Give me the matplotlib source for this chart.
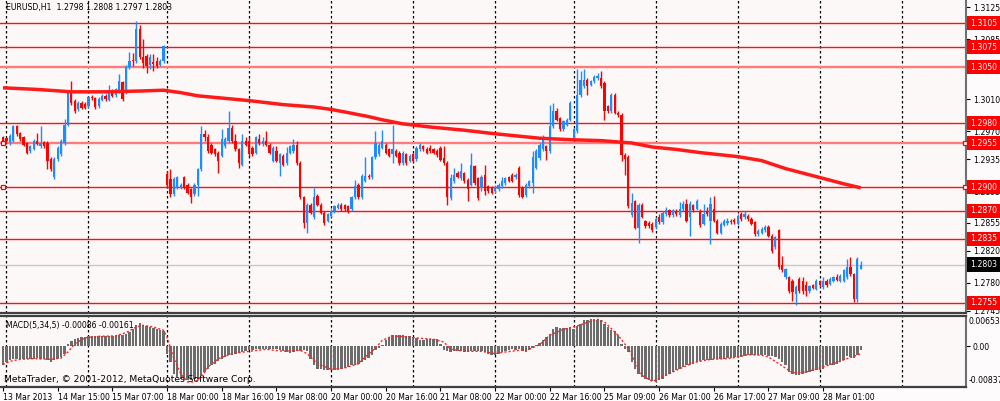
import numpy as np
import matplotlib.pyplot as plt
from matplotlib import font_manager
from matplotlib.transforms import blended_transform_factory

# MT4 uses a narrow UI font; take Liberation Sans Narrow when it is there
_names = {f.name for f in font_manager.fontManager.ttflist}
if 'Liberation Sans Narrow' in _names:
    plt.rcParams['font.family'] = ['Liberation Sans Narrow', 'DejaVu Sans']
    FS = 7.5
else:
    plt.rcParams['font.family'] = ['DejaVu Sans']
    FS = 5.6

# EURUSD H1, one candle per hour starting 13 Mar 2013 23:00
opens = [1.2962, 1.2961, 1.2956, 1.2958, 1.2976, 1.2967, 1.2962, 1.2955, 1.2945, 1.2947,
         1.2958, 1.2951, 1.2956, 1.2955, 1.2935, 1.2912, 1.2935, 1.2941, 1.2955, 1.2978,
         1.3018, 1.3008, 1.2997, 1.3005, 1.3004, 1.3001, 1.3013, 1.3011, 1.3001, 1.3009,
         1.3014, 1.3009, 1.3020, 1.3015, 1.3020, 1.3031, 1.3018, 1.3050, 1.3059, 1.3058,
         1.3097, 1.3062, 1.3064, 1.3053, 1.3056, 1.3058, 1.3053, 1.3058,
         1.2916, 1.2910, 1.2891, 1.2899, 1.2899, 1.2912, 1.2903, 1.2897, 1.2891, 1.2903,
         1.2922, 1.2966, 1.2962, 1.2953, 1.2947, 1.2943,
         1.2939, 1.2951, 1.2958, 1.2974, 1.2958, 1.2947, 1.2928, 1.2958, 1.2958, 1.2949,
         1.2943, 1.2960, 1.2954, 1.2958, 1.2953, 1.2933, 1.2945, 1.2930, 1.2939, 1.2930,
         1.2943, 1.2945, 1.2953, 1.2930, 1.2887, 1.2855, 1.2878, 1.2862, 1.2889, 1.2878,
         1.2868, 1.2858, 1.2864, 1.2870, 1.2874, 1.2878, 1.2877, 1.2876, 1.2872, 1.2887,
         1.2903, 1.2887, 1.2908, 1.2914, 1.2912, 1.2937, 1.2941, 1.2949, 1.2953, 1.2947,
         1.2941, 1.2945, 1.2943, 1.2930, 1.2941, 1.2933, 1.2941, 1.2935, 1.2947, 1.2951, 1.2948,
         1.2949, 1.2947, 1.2945, 1.2949, 1.2936, 1.2930, 1.2886, 1.2907, 1.2917, 1.2911,
         1.2917, 1.2909, 1.2903, 1.2926, 1.2911, 1.2899, 1.2915, 1.2901, 1.2899, 1.2895,
         1.2897, 1.2901, 1.2905, 1.2912, 1.2915, 1.2912, 1.2924, 1.2899, 1.2890, 1.2901,
         1.2905, 1.2924, 1.2936, 1.2947, 1.2951, 1.2945, 1.2976, 1.2995, 1.2986, 1.2972, 1.2978, 1.2984,
         1.2961, 1.2970, 1.3015, 1.3026, 1.3034, 1.3028, 1.3032, 1.3036, 1.3036, 1.3030,
         1.3001, 1.2995, 1.3015, 1.2993, 1.2990, 1.2940, 1.2938, 1.2865, 1.2882, 1.2849, 1.2878, 1.2857, 1.2855,
         1.2854, 1.2850, 1.2862, 1.2856, 1.2866, 1.2871, 1.2865, 1.2870, 1.2865, 1.2872,
         1.2879, 1.2862, 1.2877, 1.2873, 1.2870, 1.2854, 1.2870, 1.2858, 1.2873, 1.2858,
         1.2843, 1.2853, 1.2855, 1.2858, 1.2859, 1.2854, 1.2866, 1.2862, 1.2864, 1.2860,
         1.2856, 1.2841, 1.2843, 1.2846, 1.2850, 1.2839, 1.2825, 1.2846, 1.2802, 1.2787,
         1.2787, 1.2783, 1.2766, 1.2785, 1.2783, 1.2777, 1.2770, 1.2777, 1.2773, 1.2782,
         1.2775, 1.2783, 1.2779, 1.2783, 1.2787, 1.2783, 1.2783, 1.2787, 1.2800, 1.2791,
         1.2760, 1.2798]
highs = [1.2964, 1.2963, 1.2966, 1.2977, 1.2978, 1.2969, 1.2964, 1.2956, 1.2953, 1.2960,
         1.2968, 1.2976, 1.2958, 1.2957, 1.2937, 1.2937, 1.2951, 1.2960, 1.2985, 1.3020,
         1.3032, 1.3010, 1.3008, 1.3007, 1.3006, 1.3014, 1.3015, 1.3012, 1.3012, 1.3016,
         1.3016, 1.3028, 1.3022, 1.3024, 1.3041, 1.3033, 1.3052, 1.3069, 1.3068, 1.3107,
         1.3103, 1.3085, 1.3066, 1.3066, 1.3066, 1.3062, 1.3060, 1.3078,
         1.2920, 1.2922, 1.2912, 1.2914, 1.2905, 1.2914, 1.2905, 1.2899, 1.2905, 1.2924,
         1.2976, 1.2971, 1.2966, 1.2955, 1.2949, 1.2945,
         1.2972, 1.2962, 1.2995, 1.2978, 1.2966, 1.2949, 1.2966, 1.2962, 1.2962, 1.2951,
         1.2964, 1.2966, 1.2962, 1.2970, 1.2955, 1.2951, 1.2951, 1.2943, 1.2941, 1.2950,
         1.2953, 1.2960, 1.2958, 1.2932, 1.2889, 1.2880, 1.2880, 1.2899, 1.2891, 1.2880,
         1.2870, 1.2868, 1.2872, 1.2878, 1.2880, 1.2880, 1.2879, 1.2878, 1.2889, 1.2909,
         1.2905, 1.2916, 1.2937, 1.2916, 1.2939, 1.2970, 1.2955, 1.2971, 1.2955, 1.2949,
         1.2978, 1.2947, 1.2945, 1.2945, 1.2943, 1.2941, 1.2943, 1.2951, 1.2955, 1.2953, 1.2950,
         1.2953, 1.2949, 1.2947, 1.2951, 1.2951, 1.2932, 1.2916, 1.2924, 1.2920, 1.2930,
         1.2919, 1.2911, 1.2942, 1.2928, 1.2913, 1.2915, 1.2928, 1.2903, 1.2901, 1.2903,
         1.2905, 1.2912, 1.2913, 1.2914, 1.2917, 1.2918, 1.2926, 1.2901, 1.2905, 1.2909,
         1.2945, 1.2947, 1.2955, 1.2965, 1.2953, 1.3003, 1.3005, 1.2999, 1.2988, 1.2984, 1.2986, 1.3007,
         1.2974, 1.3047, 1.3045, 1.3047, 1.3036, 1.3034, 1.3040, 1.3043, 1.3045, 1.3032,
         1.3003, 1.3017, 1.3017, 1.2995, 1.2992, 1.2942, 1.2940, 1.2892, 1.2884, 1.2880, 1.2880, 1.2859, 1.2857,
         1.2856, 1.2862, 1.2866, 1.2870, 1.2875, 1.2873, 1.2873, 1.2873, 1.2881, 1.2883,
         1.2885, 1.2883, 1.2879, 1.2885, 1.2872, 1.2879, 1.2875, 1.2887, 1.2889, 1.2860,
         1.2856, 1.2860, 1.2861, 1.2860, 1.2861, 1.2866, 1.2869, 1.2870, 1.2866, 1.2862,
         1.2858, 1.2847, 1.2850, 1.2852, 1.2852, 1.2841, 1.2839, 1.2848, 1.2814, 1.2799,
         1.2789, 1.2785, 1.2777, 1.2787, 1.2787, 1.2783, 1.2778, 1.2779, 1.2785, 1.2784,
         1.2787, 1.2785, 1.2787, 1.2789, 1.2791, 1.2791, 1.2798, 1.2810, 1.2812, 1.2793,
         1.2812, 1.2808]
lows = [1.2955, 1.2954, 1.2953, 1.2956, 1.2964, 1.2958, 1.2951, 1.2941, 1.2943, 1.2946,
        1.2952, 1.2949, 1.2949, 1.2922, 1.2920, 1.2910, 1.2933, 1.2939, 1.2953, 1.2976,
        1.3003, 1.2993, 1.2995, 1.2997, 1.2997, 1.2999, 1.3009, 1.2998, 1.2999, 1.3007,
        1.3008, 1.3007, 1.3012, 1.3013, 1.3018, 1.3008, 1.3016, 1.3048, 1.3051, 1.3055,
        1.3060, 1.3049, 1.3043, 1.3047, 1.3045, 1.3049, 1.3051, 1.3055,
        1.2899, 1.2887, 1.2889, 1.2897, 1.2897, 1.2897, 1.2891, 1.2880, 1.2889, 1.2889,
        1.2920, 1.2958, 1.2943, 1.2941, 1.2939, 1.2918,
        1.2937, 1.2949, 1.2955, 1.2955, 1.2945, 1.2924, 1.2926, 1.2951, 1.2939, 1.2939,
        1.2941, 1.2953, 1.2951, 1.2951, 1.2941, 1.2931, 1.2931, 1.2914, 1.2926, 1.2928,
        1.2941, 1.2943, 1.2928, 1.2885, 1.2849, 1.2843, 1.2866, 1.2860, 1.2876, 1.2866,
        1.2853, 1.2856, 1.2862, 1.2868, 1.2872, 1.2870, 1.2870, 1.2868, 1.2870, 1.2885,
        1.2885, 1.2885, 1.2906, 1.2910, 1.2910, 1.2935, 1.2939, 1.2947, 1.2941, 1.2937,
        1.2930, 1.2937, 1.2928, 1.2928, 1.2928, 1.2931, 1.2931, 1.2933, 1.2945, 1.2945, 1.2941,
        1.2943, 1.2941, 1.2938, 1.2932, 1.2928, 1.2878, 1.2884, 1.2905, 1.2911, 1.2909,
        1.2905, 1.2882, 1.2901, 1.2903, 1.2884, 1.2895, 1.2890, 1.2893, 1.2891, 1.2893,
        1.2895, 1.2899, 1.2903, 1.2906, 1.2906, 1.2910, 1.2888, 1.2886, 1.2888, 1.2899,
        1.2892, 1.2922, 1.2934, 1.2945, 1.2934, 1.2943, 1.2974, 1.2982, 1.2970, 1.2970, 1.2976, 1.2982,
        1.2959, 1.2968, 1.3013, 1.3024, 1.3015, 1.3026, 1.3030, 1.3034, 1.3024, 1.2984,
        1.2993, 1.2993, 1.2991, 1.2988, 1.2932, 1.2915, 1.2874, 1.2863, 1.2847, 1.2830, 1.2861, 1.2849, 1.2849,
        1.2844, 1.2848, 1.2854, 1.2854, 1.2864, 1.2863, 1.2863, 1.2864, 1.2863, 1.2870,
        1.2856, 1.2839, 1.2869, 1.2871, 1.2850, 1.2852, 1.2864, 1.2829, 1.2856, 1.2841,
        1.2841, 1.2851, 1.2853, 1.2854, 1.2854, 1.2852, 1.2858, 1.2860, 1.2858, 1.2852,
        1.2839, 1.2839, 1.2841, 1.2844, 1.2837, 1.2818, 1.2823, 1.2798, 1.2794, 1.2785,
        1.2768, 1.2758, 1.2753, 1.2768, 1.2766, 1.2764, 1.2768, 1.2772, 1.2771, 1.2775,
        1.2773, 1.2775, 1.2777, 1.2781, 1.2782, 1.2781, 1.2781, 1.2785, 1.2789, 1.2756,
        1.2756, 1.2797]
closes = [1.2958, 1.2957, 1.2964, 1.2976, 1.2966, 1.2960, 1.2953, 1.2943, 1.2951, 1.2958,
          1.2954, 1.2955, 1.2951, 1.2932, 1.2922, 1.2935, 1.2949, 1.2958, 1.2978, 1.3018,
          1.3005, 1.2995, 1.3005, 1.2999, 1.2999, 1.3012, 1.3011, 1.3000, 1.3010, 1.3014,
          1.3010, 1.3020, 1.3014, 1.3022, 1.3033, 1.3010, 1.3050, 1.3058, 1.3058, 1.3097,
          1.3062, 1.3055, 1.3051, 1.3062, 1.3054, 1.3051, 1.3058, 1.3076,
          1.2903, 1.2891, 1.2910, 1.2912, 1.2903, 1.2899, 1.2893, 1.2887, 1.2903, 1.2922,
          1.2966, 1.2962, 1.2945, 1.2943, 1.2941, 1.2933,
          1.2960, 1.2960, 1.2974, 1.2958, 1.2947, 1.2930, 1.2958, 1.2953, 1.2941, 1.2941,
          1.2962, 1.2955, 1.2958, 1.2953, 1.2943, 1.2949, 1.2933, 1.2941, 1.2928, 1.2943,
          1.2951, 1.2953, 1.2930, 1.2887, 1.2855, 1.2878, 1.2868, 1.2887, 1.2878, 1.2868,
          1.2855, 1.2866, 1.2870, 1.2876, 1.2878, 1.2872, 1.2872, 1.2870, 1.2887, 1.2901,
          1.2887, 1.2914, 1.2914, 1.2912, 1.2937, 1.2955, 1.2953, 1.2958, 1.2943, 1.2939,
          1.2947, 1.2939, 1.2930, 1.2943, 1.2930, 1.2939, 1.2933, 1.2949, 1.2953, 1.2947, 1.2943,
          1.2945, 1.2943, 1.2940, 1.2934, 1.2930, 1.2888, 1.2911, 1.2915, 1.2913, 1.2920,
          1.2907, 1.2897, 1.2928, 1.2905, 1.2886, 1.2913, 1.2895, 1.2895, 1.2893, 1.2900,
          1.2903, 1.2907, 1.2911, 1.2908, 1.2908, 1.2915, 1.2890, 1.2888, 1.2903, 1.2907,
          1.2938, 1.2945, 1.2953, 1.2963, 1.2945, 1.2976, 1.2995, 1.2984, 1.2972, 1.2982, 1.2984, 1.3005,
          1.2972, 1.3015, 1.3034, 1.3034, 1.3026, 1.3032, 1.3038, 1.3039, 1.3026, 1.2995,
          1.2995, 1.3015, 1.2993, 1.2990, 1.2940, 1.2935, 1.2876, 1.2880, 1.2849, 1.2878, 1.2863, 1.2851, 1.2851,
          1.2846, 1.2860, 1.2856, 1.2868, 1.2871, 1.2865, 1.2871, 1.2866, 1.2873, 1.2879,
          1.2858, 1.2879, 1.2871, 1.2883, 1.2852, 1.2866, 1.2866, 1.2879, 1.2858, 1.2843,
          1.2854, 1.2858, 1.2858, 1.2856, 1.2856, 1.2864, 1.2860, 1.2866, 1.2860, 1.2854,
          1.2841, 1.2845, 1.2848, 1.2850, 1.2839, 1.2820, 1.2837, 1.2800, 1.2796, 1.2797,
          1.2770, 1.2769, 1.2775, 1.2770, 1.2770, 1.2770, 1.2776, 1.2774, 1.2783, 1.2777,
          1.2783, 1.2777, 1.2785, 1.2787, 1.2784, 1.2789, 1.2796, 1.2800, 1.2791, 1.2760,
          1.2810, 1.2803]

# moving average (bar index, price)
ma_bar = [0, 10, 20, 30, 40, 47, 52, 57, 62, 72, 82, 91, 96, 101, 107, 111, 117, 121, 125,
          135, 143, 150, 157, 167, 175, 181, 184, 190, 197, 204, 215, 222, 229, 238, 246, 251]
ma_val = [1.3024, 1.3022, 1.3019, 1.3019, 1.3020, 1.3021, 1.3018, 1.3014, 1.3012, 1.3008,
          1.3003, 1.3000, 1.2997, 1.2993, 1.2988, 1.2984, 1.2979, 1.2977, 1.2975, 1.2971,
          1.2967, 1.2964, 1.2961, 1.2959, 1.2958, 1.2956, 1.2955, 1.2950, 1.2947, 1.2943,
          1.2938, 1.2933, 1.2923, 1.2913, 1.2904, 1.2899]

levels = [1.3105, 1.3075, 1.3050, 1.2980, 1.2955, 1.2900, 1.2870, 1.2835, 1.2755]
wide_levels = [1.3050, 1.2955]
marked_levels = [1.2955, 1.2900]
bid = 1.2803
price_ticks = [1.3125, 1.3085, 1.3010, 1.2970, 1.2935, 1.2895, 1.2855, 1.2820, 1.2780, 1.2745]

# MACD(5,34,5) histogram, one value per bar
macd = [-0.00402, -0.00331, -0.00296, -0.00261, -0.00261, -0.00261, -0.00261, -0.00275, -0.00261, -0.00261,
        -0.00247, -0.00261, -0.00261, -0.00296, -0.00331, -0.00296, -0.00261, -0.00226, -0.00155, 0.00056,
        0.00106, 0.00148, 0.00176, 0.00197, 0.00197, 0.00212, 0.00212, 0.00212, 0.00212, 0.00219,
        0.00212, 0.00212, 0.00219, 0.00233, 0.00233, 0.00247, 0.00268, 0.00303, 0.00374, 0.00444,
        0.00501, 0.00444, 0.00430, 0.00409, 0.00388, 0.00360, 0.00338, 0.00317,
        -0.00155, -0.00331, -0.00578, -0.00649, -0.00684, -0.00719, -0.00719, -0.00719, -0.00684, -0.00684,
        -0.00613, -0.00543, -0.00472, -0.00402, -0.00367, -0.00317, -0.00261, -0.00226, -0.00190, -0.00176,
        -0.00155, -0.00134, -0.00120, -0.00106, -0.00085, -0.00071, -0.00063, -0.00063, -0.00063, -0.00063,
        -0.00063, -0.00049, -0.00063, -0.00085, -0.00106, -0.00120, -0.00134, -0.00120, -0.00106, -0.00106,
        -0.00085, -0.00106, -0.00261, -0.00402, -0.00472, -0.00486, -0.00508, -0.00508, -0.00508, -0.00508,
        -0.00508, -0.00472, -0.00458, -0.00437, -0.00402, -0.00388, -0.00367, -0.00331, -0.00296, -0.00247,
        -0.00190, -0.00085, -0.00035, 0.00021, 0.00127, 0.00197, 0.00233, 0.00247, 0.00247, 0.00233,
        0.00219, 0.00219, 0.00197, 0.00176, 0.00127, 0.00127, 0.00148,
        0.00162, 0.00162, 0.00148, 0.00056, -0.00085, -0.00106, -0.00120, -0.00106, -0.00106, -0.00106,
        -0.00120, -0.00120, -0.00106, -0.00106, -0.00106, -0.00106, -0.00120, -0.00155, -0.00190, -0.00176,
        -0.00155, -0.00120, -0.00106, -0.00085, -0.00063, -0.00085, -0.00063, -0.00106, -0.00120, -0.00085,
        -0.00035, 0.00035, 0.00078, 0.00127, 0.00197, 0.00268, 0.00374, 0.00409, 0.00388, 0.00388,
        0.00388, 0.00388, 0.00374, 0.00430, 0.00479, 0.00550, 0.00550, 0.00571, 0.00571, 0.00550,
        0.00550, 0.00479, 0.00409, 0.00338, 0.00317, 0.00233, 0.00056, -0.00050, -0.00120, -0.00331,
        -0.00472, -0.00578, -0.00649, -0.00684, -0.00719, -0.00740, -0.00754, -0.00719, -0.00684, -0.00627,
        -0.00578, -0.00543, -0.00508, -0.00472, -0.00437, -0.00402, -0.00388, -0.00367, -0.00331, -0.00317,
        -0.00296, -0.00289, -0.00282, -0.00275, -0.00261, -0.00261, -0.00261, -0.00247, -0.00247, -0.00233,
        -0.00226, -0.00226, -0.00204, -0.00190, -0.00176, -0.00176, -0.00176, -0.00190, -0.00190, -0.00204,
        -0.00204, -0.00226, -0.00261, -0.00331, -0.00402, -0.00543, -0.00578, -0.00599, -0.00599, -0.00578,
        -0.00557, -0.00543, -0.00522, -0.00508, -0.00494, -0.00472, -0.00402, -0.00402, -0.00388, -0.00367,
        -0.00331, -0.00296, -0.00204, -0.00226, -0.00247, -0.00176, -0.00086]

# signal line (bar index, value)
sig_bar = [0, 2, 5, 9, 14, 17, 19, 21, 24, 28, 33, 36, 39, 41, 44, 47, 48, 50, 52, 54, 56, 58,
           60, 63, 67, 72, 77, 82, 87, 89, 92, 96, 100, 104, 106, 109, 111, 114, 119, 121, 126,
           129, 131, 135, 140, 144, 147, 151, 154, 157, 160, 164, 168, 172, 174, 176, 180, 183,
           185, 187, 190, 193, 197, 202, 207, 212, 215, 218, 222, 224, 227, 231, 235, 239, 243,
           247, 251]
sig_val = [-0.00388, -0.00317, -0.00275, -0.00261, -0.00275, -0.00247, -0.00120, 0.00056, 0.00176,
           0.00212, 0.00219, 0.00289, 0.00409, 0.00444, 0.00409, 0.00338, 0.00197, -0.00261,
           -0.00578, -0.00754, -0.00754, -0.00649, -0.00437, -0.00261, -0.00155, -0.00106,
           -0.00063, -0.00106, -0.00085, -0.00155, -0.00367, -0.00486, -0.00458, -0.00367,
           -0.00226, -0.00035, 0.00127, 0.00219, 0.00197, 0.00176, 0.00148, 0.00092, -0.00063,
           -0.00106, -0.00106, -0.00155, -0.00120, -0.00085, -0.00063, 0.00035, 0.00233, 0.00360,
           0.00430, 0.00529, 0.00571, 0.00515, 0.00233, -0.00049, -0.00331, -0.00613, -0.00740,
           -0.00649, -0.00508, -0.00345, -0.00275, -0.00261, -0.00226, -0.00176, -0.00190,
           -0.00226, -0.00367, -0.00557, -0.00543, -0.00458, -0.00367, -0.00261, -0.00161]

tick_bars = [0, 16, 32, 48, 64, 80, 96, 112, 128, 144, 160, 176, 192, 208, 224, 240]
tick_labels = ['13 Mar 2013', '14 Mar 15:00', '15 Mar 07:00', '18 Mar 00:00', '18 Mar 16:00',
               '19 Mar 08:00', '20 Mar 00:00', '20 Mar 16:00', '21 Mar 08:00', '22 Mar 00:00',
               '22 Mar 16:00', '25 Mar 09:00', '26 Mar 01:00', '26 Mar 17:00', '27 Mar 09:00',
               '28 Mar 01:00']
day_bars = [1, 25, 48, 72, 96, 120, 144, 167, 191, 215, 239, 263]

BG = '#fcf8f8'
BULL = '#1e8cff'
BEAR = '#ff0000'

fig = plt.figure(figsize=(10, 4.01), dpi=100, facecolor='#fdfbfb')
ax = fig.add_axes([0.0, 0.2195, 0.966, 0.7805], facecolor=BG)
ax2 = fig.add_axes([0.0, 0.0349, 0.966, 0.1783], facecolor=BG)

xlim = (-0.88, 281.8)

# ---- price panel
o = np.array(opens); h = np.array(highs); lo = np.array(lows); c = np.array(closes)
x = np.arange(len(o))
cols = np.where(c >= o, BULL, BEAR)

for d in day_bars:
    ax.axvline(d, color='black', lw=0.9, ls=(0, (2, 2)), zorder=1)
    ax2.axvline(d, color='black', lw=0.9, ls=(0, (2, 2)), zorder=1)

for lv in levels:
    if lv in wide_levels:
        ax.axhline(lv, color='#ff7a7a', lw=1.7, zorder=2)
    else:
        ax.axhline(lv, color='#ff1010', lw=1.0, zorder=2)
ax.axhline(bid, color='#c8c8c8', lw=1.0, zorder=2)

ax.vlines(x, lo, h, colors=cols, lw=1.0, zorder=3)
body = np.maximum(np.abs(c - o), 0.00008)
ax.bar(x, body, bottom=np.minimum(o, c), width=0.66, color=cols, zorder=4)

ax.plot(ma_bar, ma_val, color='#ff1a1a', lw=2.5, solid_capstyle='butt', zorder=5)

for lv in marked_levels:
    ax.plot([xlim[0] + 1.0, xlim[1] - 0.3], [lv, lv], 's', ms=3.5, mfc='white',
            mec='red', mew=0.9, clip_on=False, zorder=6)

ax.set_xlim(*xlim)
ax.set_ylim(1.27425, 1.31338)
ax.set_xticks([])
ax.yaxis.tick_right()
ax.set_yticks(price_ticks)
ax.set_yticklabels(['%.4f' % p for p in price_ticks])
ax.tick_params(axis='y', direction='out', length=3, width=0.8, labelsize=FS, pad=2, colors='black')
for s in ['top', 'left']:
    ax.spines[s].set_visible(False)
ax.spines['right'].set_color('#707070')
ax.spines['right'].set_linewidth(1.5)
ax.spines['bottom'].set_color('#404040')
ax.spines['bottom'].set_linewidth(1.6)

tr = blended_transform_factory(ax.transAxes, ax.transData)
for lv in levels:
    ax.text(1.004, lv, '%.4f' % lv, transform=tr, ha='left', va='center', fontsize=FS,
            color='white', clip_on=False, zorder=10,
            bbox=dict(boxstyle='square,pad=0.38', fc='#ff0000', ec='none'))
ax.text(1.004, bid, '%.4f' % bid, transform=tr, ha='left', va='center', fontsize=FS,
        color='white', clip_on=False, zorder=10,
        bbox=dict(boxstyle='square,pad=0.38', fc='black', ec='none'))

ax.text(0.006, 0.975, 'EURUSD,H1  %.4f %.4f %.4f %.4f' % (opens[-1], highs[-1], lows[-1], closes[-1]),
        transform=ax.transAxes, ha='left', va='center', fontsize=FS)

# ---- MACD panel
xm = np.arange(len(macd))
ax2.bar(xm, macd, width=0.7, color='#6c6c6c', zorder=3)
ax2.plot(sig_bar, sig_val, color='#ff2020', lw=1.0, ls=(0, (1.5, 1.5)), zorder=4)
ax2.set_xlim(*xlim)
ax2.set_ylim(-0.0086, 0.00651)
ax2.yaxis.tick_right()
ax2.set_yticks([0.0])
ax2.set_yticklabels(['0.00'])
ax2.tick_params(axis='y', direction='out', length=3, width=0.8, labelsize=FS, pad=2)
ax2.text(1.0025, 0.91, '0.00653', transform=ax2.transAxes, ha='left', va='center',
         fontsize=FS, clip_on=False)
ax2.text(1.0025, 0.084, '-0.00837', transform=ax2.transAxes, ha='left', va='center',
         fontsize=FS, clip_on=False)

ax2.set_xticks(tick_bars)
ax2.set_xticklabels(tick_labels)
ax2.tick_params(axis='x', direction='out', length=3, width=0.8, labelsize=FS, pad=1.5)
for lab in ax2.get_xticklabels():
    lab.set_horizontalalignment('left')
ax2.spines['left'].set_visible(False)
for s in ['top', 'bottom']:
    ax2.spines[s].set_color('#404040')
    ax2.spines[s].set_linewidth(1.6)
ax2.spines['right'].set_color('#707070')
ax2.spines['right'].set_linewidth(1.5)

ax2.text(0.006, 0.86, 'MACD(5,34,5) %.5f %.5f' % (macd[-1], sig_val[-1]),
         transform=ax2.transAxes, ha='left', va='center', fontsize=FS)
ax2.text(0.004, 0.1, 'MetaTrader, \u00a9 2001-2012, MetaQuotes Software Corp.',
         transform=ax2.transAxes, ha='left', va='center', fontsize=FS * 1.18)

fig.savefig('out.png', dpi=100, facecolor=fig.get_facecolor())
